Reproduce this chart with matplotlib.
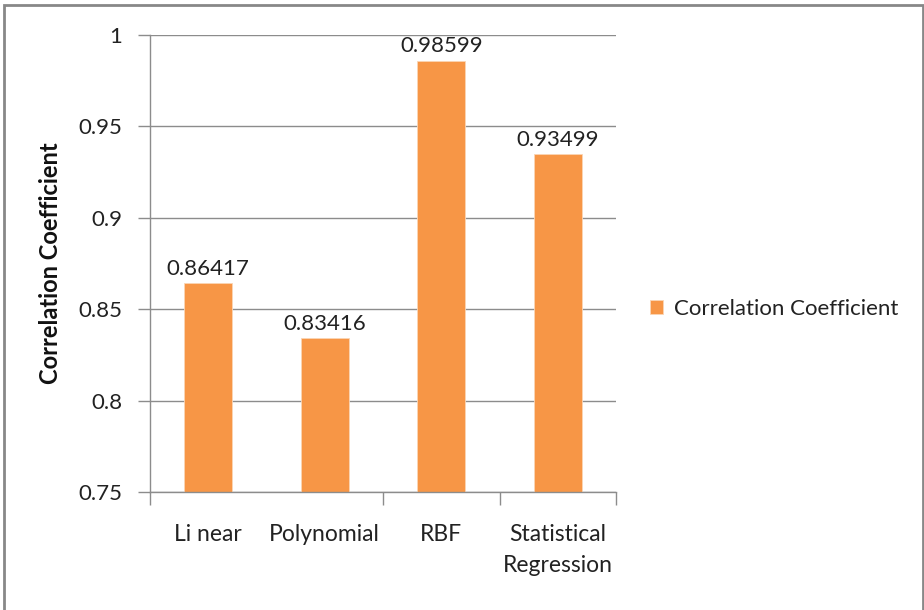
import matplotlib
matplotlib.use("Agg")
import matplotlib.pyplot as plt
from matplotlib.patches import Rectangle
from matplotlib.ticker import FixedLocator, NullFormatter

plt.rcParams['font.family'] = ['Lato', 'DejaVu Sans']

categories = ["Li near", "Polynomial", "RBF", "Statistical\nRegression"]
values = [0.86417, 0.83416, 0.98599, 0.93499]
value_labels = ["0.86417", "0.83416", "0.98599", "0.93499"]
yticks = [0.75, 0.8, 0.85, 0.9, 0.95, 1.0]
ytick_labels = ["0.75", "0.8", "0.85", "0.9", "0.95", "1"]
series_name = "Correlation Coefficient"

bar_color = "#F79646"
grid_color = "#8c8c8c"
text_color = "#222222"

fig = plt.figure(figsize=(9.24, 6.10), dpi=100)
ax = fig.add_axes([150 / 924, 118 / 610, 466 / 924, 457 / 610])

x = list(range(len(categories)))
bars = ax.bar(x, [v - 0.75 for v in values], bottom=0.75, width=0.41,
              color=bar_color, edgecolor="#fbd5b5", linewidth=0.6,
              label=series_name, zorder=2)

for xi, v, lab in zip(x, values, value_labels):
    ax.annotate(lab, (xi, v), xytext=(0, 3), textcoords="offset points",
                ha="center", va="bottom", fontsize=16, color=text_color,
                zorder=3)

ax.set_xlim(-0.5, len(categories) - 0.5)
ax.set_ylim(0.75, 1.0)
ax.set_yticks(yticks)
ax.set_yticklabels(ytick_labels)
ax.set_xticks(x)
ax.set_xticklabels(categories, fontsize=16.5, color=text_color, linespacing=1.6)
ax.tick_params(axis="x", length=0, pad=23)
ax.tick_params(axis="y", length=9, width=1, color=grid_color, labelsize=16,
               labelcolor=text_color, pad=11)

# category separators on the category axis
ax.xaxis.set_minor_locator(FixedLocator([-0.5, 1.5, 2.5, 3.5]))
ax.xaxis.set_minor_formatter(NullFormatter())
ax.tick_params(axis="x", which="minor", length=9, width=1, color=grid_color,
               direction="out")

ax.yaxis.grid(True, color=grid_color, linewidth=1)
ax.set_axisbelow(True)
for side in ["top", "right"]:
    ax.spines[side].set_visible(False)
for side in ["left", "bottom"]:
    ax.spines[side].set_color(grid_color)
    ax.spines[side].set_linewidth(1)

ax.set_ylabel(series_name, fontsize=17, fontweight="bold", color="#111111",
              labelpad=12)

leg = fig.legend(handles=[bars], labels=[series_name], loc="center left",
                 bbox_to_anchor=(630 / 924, 1 - 309 / 610), frameon=False,
                 fontsize=16, handlelength=0.6, handleheight=0.6,
                 handletextpad=0.5)
for t in leg.get_texts():
    t.set_color(text_color)

# chart border
fig.patches.append(Rectangle((4 / 924, -0.05), 919 / 924, 1 - 5 / 610 + 0.05,
                             transform=fig.transFigure, fill=False,
                             edgecolor="#888888", linewidth=2))

fig.savefig("out.png", dpi=100)
